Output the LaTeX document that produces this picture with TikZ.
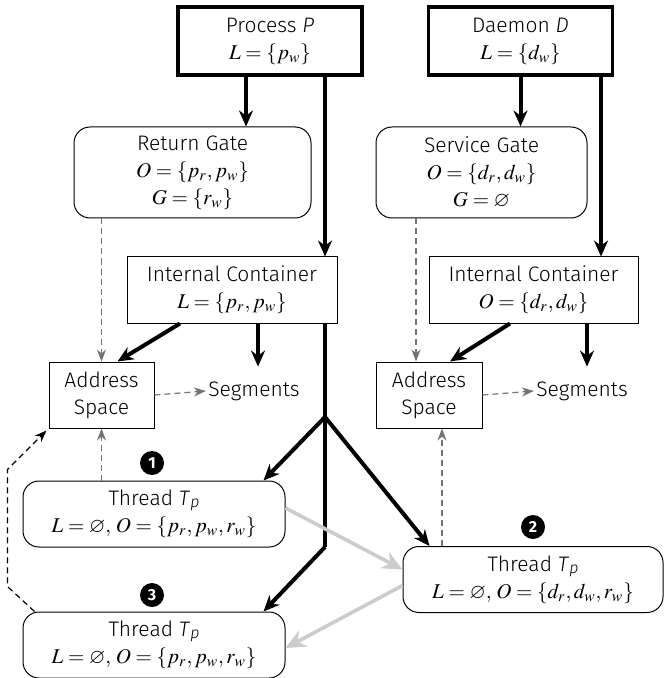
\documentclass[tikz,border=0pt]{standalone}
\usepackage{amsmath}
\usepackage{amssymb}
\usepackage{mathptmx}
\usepackage{fontspec}
\setmainfont{Fira Sans}[UprightFont=* Light,ItalicFont=* Light Italic,BoldFont=* Bold]
\usepackage{tikz}
\usetikzlibrary{arrows.meta}
\definecolor{flowgray}{gray}{0.8}
\definecolor{dashgray}{gray}{0.45}
\newcommand{\thrname}{Thread \textit{T}\raisebox{-1pt}{\footnotesize\textit{p}}}

\begin{document}
\begin{tikzpicture}[x=0.5pt,y=-0.5pt,font=\fontsize{10.5}{13.5}\selectfont,
	owner/.style={draw,line width=1.6pt,minimum width=92pt,minimum height=34pt,align=center,inner sep=2pt},
	gate/.style={draw,rounded corners=8pt,line width=0.5pt,minimum height=45.5pt,align=center},
	cbox/.style={draw,line width=0.5pt,minimum height=33pt,align=center},
	thread/.style={draw,rounded corners=8pt,line width=0.5pt,minimum width=131pt,minimum height=33pt,align=center},
	heavy/.style={line width=2pt,-{Stealth[length=8pt,width=7pt]}},
	trunk/.style={line width=2pt,line join=round},
	refarr/.style={dash pattern=on 3pt off 2pt,dashgray,line width=0.6pt,-{Stealth[length=6pt,width=4.5pt]}},
	flow/.style={flowgray,line width=1.8pt,-{Stealth[length=10pt,width=9pt]}},
	badge/.style={circle,fill=black,text=white,inner sep=0pt,minimum size=12pt,font=\bfseries\footnotesize},
	lbl/.style={inner xsep=1pt,minimum height=24pt}]
	\useasboundingbox (0,0) rectangle (663,678);
	
	% owners
	\node[owner] (proc) at (270,41) {Process \textit{P}\\$L=\{p_w\}$};
	\node[owner] (dmn) at (520.5,41) {Daemon \textit{D}\\$L=\{d_w\}$};
	
	% gates
	\node[gate,minimum width=118.5pt] (rgate) at (192.5,172.5) {Return Gate\\$O=\{p_r,p_w\}$\\$G=\{r_w\}$};
	\node[gate,minimum width=105.5pt] (sgate) at (481.5,172.5) {Service Gate\\$O=\{d_r,d_w\}$\\$G=\varnothing$};
	
	% containers
	\node[cbox,minimum width=105pt] (icL) at (232,290) {Internal Container\\$L=\{p_r,p_w\}$};
	\node[cbox,minimum width=104.5pt] (icR) at (533.5,290) {Internal Container\\$O=\{d_r,d_w\}$};
	
	% address spaces and segments
	\node[cbox,minimum width=52.5pt] (asL) at (101.5,395) {Address\\Space};
	\node[cbox,minimum width=53pt] (asR) at (429,395) {Address\\Space};
	\node[lbl] (segL) at (254,391) {Segments};
	\node[lbl] (segR) at (582,391) {Segments};
	
	% threads
	\node[thread] (t1) at (154,514) {\thrname\\$L=\varnothing,\,O=\{p_r,p_w,r_w\}$};
	\node[thread,minimum width=130pt] (t2) at (533,579.5) {\thrname\\$L=\varnothing,\,O=\{d_r,d_w,r_w\}$};
	\node[thread] (t3) at (154,645) {\thrname\\$L=\varnothing,\,O=\{p_r,p_w,r_w\}$};
	
	% badges
	\node[badge] (b1) at (152,463) {1};
	\node[badge] (b2) at (533,527) {2};
	\node[badge] (b3) at (152,595) {3};
	
	% trunk points
	\coordinate (ptrunk) at (325,260);
	\coordinate (dtrunk) at (601,260);
	\coordinate (fork) at (325,417);
	\coordinate (bend) at (325,547);
	\coordinate (sref) at ([xshift=-6.5pt]asR.north);
	\coordinate (tref) at ([xshift=6.5pt]asR.south);
	
	% owner arrows
	\draw[heavy] ([xshift=-12pt]proc.south) -- ([xshift=-12pt]proc.south |- rgate.north);
	\draw[heavy] (proc.south -| ptrunk) -- (icL.north -| ptrunk);
	\draw[heavy] (dmn.south) -- (dmn.south |- sgate.north);
	\draw[heavy] (dmn.south -| dtrunk) -- (icR.north -| dtrunk);
	
	% container arrows
	\draw[heavy] ([xshift=-26pt]icL.south) -- ([xshift=8pt]asL.north);
	\draw[heavy] ([xshift=13pt]icL.south) -- ([xshift=2pt]segL.north);
	\draw[heavy] ([xshift=-11.75pt]icR.south) -- ([xshift=10.5pt]asR.north);
	\draw[heavy] ([xshift=26.75pt]icR.south) -- ([xshift=2.5pt]segR.north);
	
	% thread arrows
	\draw[trunk] (icL.south -| fork) -- (fork) -- (bend);
	\draw[heavy] (fork) -- ([xshift=-11pt]t1.north east);
	\draw[heavy] (fork) -- ([xshift=13.5pt]t2.north west);
	\draw[heavy] (bend) -- ([xshift=-11pt]t3.north east);
	
	% gray flow
	\draw[flow] ([yshift=3pt]t1.east) -- ([yshift=5pt]t2.west);
	\draw[flow] ([yshift=-3pt]t2.west) -- ([yshift=-1.5pt]t3.east);
	
	% dashed references
	\draw[refarr] (rgate.south -| asL.north) -- (asL.north);
	\draw[refarr] (sgate.south -| sref) -- (sref);
	\draw[refarr] (asL.east) -- (segL.west);
	\draw[refarr] (asR.east) -- (segR.west);
	\draw[refarr] (t1.north -| asL.south) -- (asL.south);
	\draw[refarr] (t2.north -| tref) -- (tref);
	\draw[refarr,black] ([xshift=6pt]t3.north west) -- ++(-13.5pt,12.5pt) -- ++(0,58.5pt) -- ([xshift=-1pt,yshift=-1pt]asL.south west);
\end{tikzpicture}
\end{document}
